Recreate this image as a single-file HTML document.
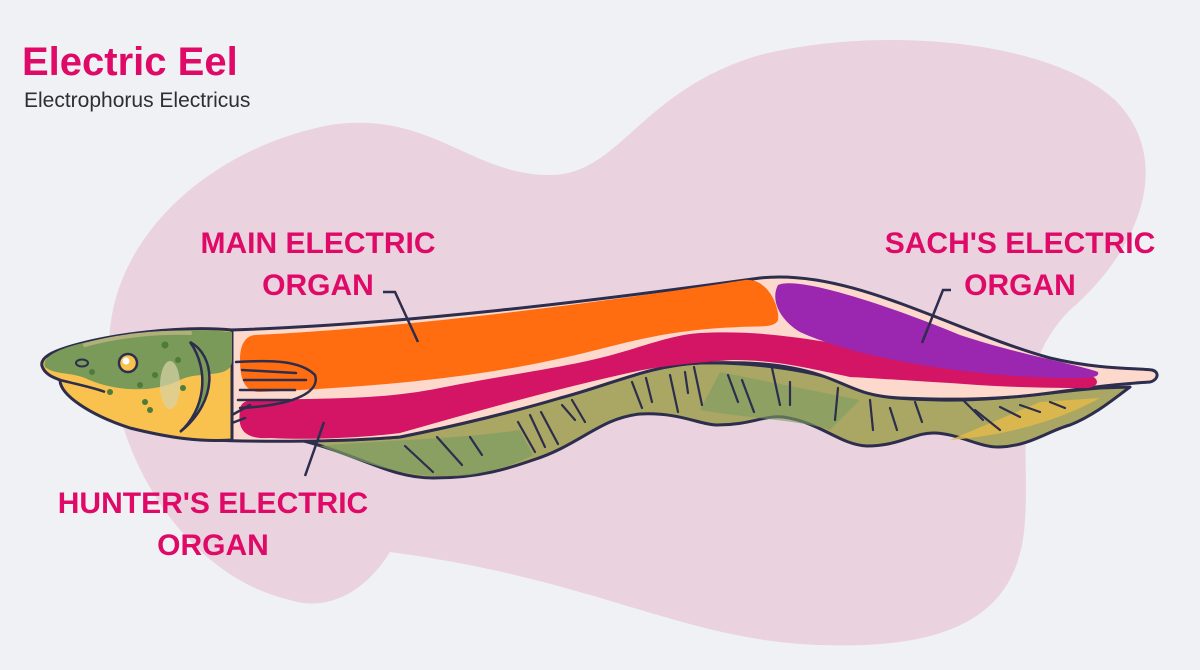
<!DOCTYPE html>
<html><head><meta charset="utf-8"><style>
html,body{margin:0;padding:0;background:#f0f1f5;}
svg{display:block}
text{font-family:"Liberation Sans",sans-serif;}
</style></head><body>
<svg width="1200" height="670" viewBox="0 0 1200 670" xmlns="http://www.w3.org/2000/svg">
<rect width="1200" height="670" fill="#f0f1f5"/>
<path d="M110,360 C100,250 200,150 330,125 C430,110 470,175 550,175 C620,175 640,90 760,55 C880,25 1050,40 1115,100 C1175,160 1140,250 1070,310 C1010,370 1030,450 1025,520 C1020,610 960,650 820,645 C680,640 600,580 390,552 C360,600 320,610 290,600 C200,580 120,480 110,360 Z" fill="#ead2df"/>
<text x="22" y="75" font-size="40" font-weight="bold" fill="#df0a67">Electric Eel</text>
<text x="24" y="107" font-size="21" fill="#2e2e33">Electrophorus Electricus</text>

<!-- fin -->
<path d="M300,440 C360,455 390,478 433,478 C480,478 510,468 533,460 C580,445 600,418 640,414 C680,412 700,425 717,425 C750,425 765,415 783,417 C820,422 840,445 867,446 C900,446 915,432 935,433 C960,434 980,448 1000,447 C1030,446 1050,430 1070,425 C1095,415 1115,398 1130,387 L1100,388 C1050,392 1000,401 940,400 C900,399 870,398 850,385 C820,372 760,362 700,363 C650,365 610,385 560,398 C520,410 460,425 400,437 C360,440 330,440 300,440 Z" fill="#a9a763" stroke="#2d2d4d" stroke-width="3" stroke-linejoin="round"/>
<path d="M320,446 C380,470 420,480 470,475 C500,470 520,462 533,455 L520,430 C450,440 380,440 320,446Z" fill="#7e9c62" opacity="0.7"/>
<path d="M700,410 C760,420 800,420 830,430 L860,400 L720,372Z" fill="#7e9c62" opacity="0.6"/>
<path d="M950,440 C1010,435 1060,420 1100,398 L1040,402Z" fill="#e3b84a" opacity="0.85"/>
<g stroke="#2d2d4d" stroke-width="2.2" stroke-linecap="round" fill="none">
<path d="M405,446 L433,472"/><path d="M437,437 L462,465"/><path d="M470,437 L482,455"/>
<path d="M518,422 L535,452"/><path d="M530,415 L545,447"/><path d="M541,412 L558,444"/><path d="M562,405 L575,420"/><path d="M572,400 L585,422"/>
<path d="M632,382 L642,408"/><path d="M646,378 L652,402"/><path d="M670,375 L678,412"/><path d="M685,372 L688,393"/><path d="M694,367 L702,405"/>
<path d="M728,375 L738,402"/><path d="M742,380 L754,412"/><path d="M772,368 L780,405"/><path d="M790,382 L790,405"/><path d="M838,388 L835,420"/>
<path d="M870,400 L873,430"/><path d="M890,408 L897,430"/><path d="M915,402 L922,422"/><path d="M963,400 L983,420"/><path d="M975,410 L1000,430"/><path d="M1000,407 L1020,417"/><path d="M1020,405 L1040,412"/><path d="M1050,402 L1065,408"/>
</g>

<!-- body -->
<path d="M230,330 C400,325 600,300 760,278 C850,268 950,330 1050,358 C1100,370 1140,368 1152,370 C1160,372 1158,380 1150,382 C1120,384 1100,386 1050,393 C1000,400 950,400 900,398 C860,396 850,385 820,375 C780,362 740,362 700,363 C650,365 610,385 560,398 C520,410 460,425 400,437 C340,442 260,442 210,440 Z" fill="#fcd9cc" stroke="#2d2d4d" stroke-width="3" stroke-linejoin="round"/>
<!-- organs -->
<path d="M255,335 C400,328 600,303 745,280 C770,278 780,310 778,320 C775,328 760,326 740,327 C660,330 620,345 567,357 C500,372 420,385 260,392 C245,392 240,380 240,360 C240,345 245,336 255,335 Z" fill="#ff6d10"/>
<path d="M255,400 C330,398 380,400 440,388 C500,376 560,368 600,358 C640,348 670,335 700,333 C740,331 770,334 800,338 C880,350 950,360 1000,366 C1050,372 1080,372 1092,376 C1100,380 1098,387 1088,388 C1040,388 1000,387 950,383 C900,380 870,378 850,377 C800,366 770,360 733,360 C700,362 660,366 633,372 C560,388 480,410 400,433 C360,438 310,440 270,438 C240,440 238,425 240,410 C240,402 248,400 255,400 Z" fill="#d41464"/>
<path d="M778,285 C800,275 900,310 960,335 C1020,355 1080,365 1098,372 C1100,378 1090,378 1060,378 C950,375 850,355 800,332 C780,320 770,300 778,285 Z" fill="#9b27b0"/>

<!-- head -->
<path d="M232,330 C180,325 110,335 75,345 C50,352 40,358 42,366 C45,375 55,378 60,380 C60,395 90,415 130,428 C170,438 200,442 232,440 Z" fill="#f9c24f" stroke="#2d2d4d" stroke-width="3" stroke-linejoin="round"/>
<path d="M232,332 C180,326 110,335 75,345 C50,352 42,360 45,367 C55,375 70,372 85,378 C110,390 150,395 180,380 C200,370 232,380 232,360 Z" fill="#7a9a5a"/>
<path d="M85,345 C120,335 160,332 190,333" stroke="#b0b07a" stroke-width="4" fill="none" stroke-linecap="round"/>
<path d="M190,342 C215,355 220,400 180,432 C205,410 210,370 190,342Z" fill="#7a9a5a" stroke="#2d2d4d" stroke-width="2.5"/>
<ellipse cx="170" cy="385" rx="10" ry="24" fill="#d8d3a6" opacity="0.7"/>
<circle cx="128" cy="363" r="9" fill="#f9c24f" stroke="#2d2d4d" stroke-width="2.5"/>
<circle cx="126" cy="361" r="3.5" fill="#fff"/>
<ellipse cx="82" cy="363" rx="6" ry="3.5" fill="none" stroke="#2d2d4d" stroke-width="2"/>
<path d="M60,380 C80,385 95,388 105,392" stroke="#2d2d4d" stroke-width="2.5" fill="none"/>
<g fill="#4e7a3a"><circle cx="165" cy="345" r="3.5"/><circle cx="92" cy="372" r="3"/><circle cx="140" cy="385" r="3"/><circle cx="155" cy="375" r="3"/><circle cx="145" cy="402" r="3"/><circle cx="110" cy="392" r="3"/><circle cx="178" cy="360" r="3"/><circle cx="183" cy="388" r="3"/><circle cx="150" cy="410" r="3"/></g>
<g stroke="#2d2d4d" stroke-width="2.5" fill="none" stroke-linecap="round">
<path d="M236,362 C270,360 300,360 315,375 C320,390 300,405 240,408"/>
<path d="M242,370 L296,373"/><path d="M244,380 L306,380"/><path d="M240,390 L295,390"/><path d="M238,400 L290,400"/><path d="M232,415 L250,405"/><path d="M232,423 L245,418"/>
</g>

<g stroke="#2d2d4d" stroke-width="2.5" fill="none">
<path d="M383,292 L395,292 L418,342"/>
<path d="M951,290 L943,290 L922,343"/>
<path d="M324,422 L305,476"/>
</g>
<g font-size="30" font-weight="bold" fill="#df0a67" text-anchor="middle">
<text x="318" y="253">MAIN ELECTRIC</text>
<text x="318" y="295">ORGAN</text>
<text x="1020" y="253">SACH'S ELECTRIC</text>
<text x="1020" y="295">ORGAN</text>
<text x="213" y="513">HUNTER'S ELECTRIC</text>
<text x="213" y="555">ORGAN</text>
</g>
</svg>
</body></html>
